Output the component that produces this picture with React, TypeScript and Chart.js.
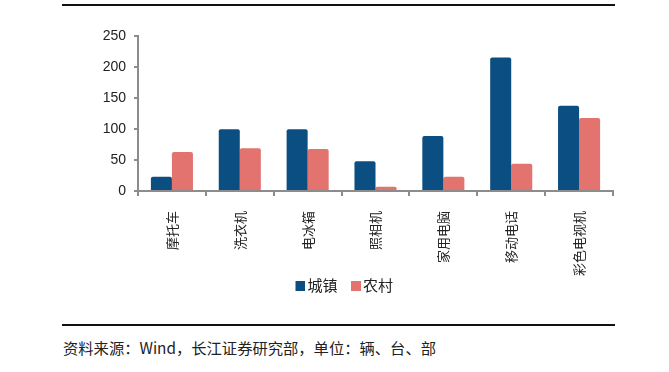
import React, { useEffect, useRef } from "react";
import { Chart, registerables } from "chart.js";

Chart.register(...registerables);

const categories = ["摩托车", "洗衣机", "电冰箱", "照相机", "家用电脑", "移动电话", "彩色电视机"];
const urbanValues = [23, 100, 100, 48, 89, 216, 138];
const ruralValues = [63, 69, 68, 7, 23, 44, 118];
const seriesNames = ["城镇", "农村"];
const yTicks = [0, 50, 100, 150, 200, 250];
const footerText = "资料来源：Wind，长江证券研究部，单位：辆、台、部";

const BLUE = "#0b4f82";
const RED = "#e2736f";

const legendShift = {
  id: "legendShift",
  afterLayout(chart: any) {
    if (chart.legend) {
      chart.legend.left += 4;
      chart.legend.right += 4;
      chart.legend.top -= 8;
      chart.legend.bottom -= 8;
    }
  },
};

function makeSwatch(color: string) {
  const c = document.createElement("canvas");
  c.width = 21;
  c.height = 10;
  const g = c.getContext("2d")!;
  g.fillStyle = color;
  g.fillRect(11, 0, 10, 10);
  return c;
}

export default function App() {
  const ref = useRef<HTMLCanvasElement | null>(null);
  useEffect(() => {
    if (!ref.current) return;
    const swatches = [makeSwatch(BLUE), makeSwatch(RED)];
    const chart = new Chart(ref.current, {
      type: "bar",
      data: {
        labels: categories,
        datasets: [
          { label: seriesNames[0], data: urbanValues, backgroundColor: BLUE, borderRadius: 2, borderSkipped: "bottom" },
          { label: seriesNames[1], data: ruralValues, backgroundColor: RED, borderRadius: 2, borderSkipped: "bottom" },
        ],
      },
      plugins: [legendShift],
      options: {
        animation: false,
        responsive: false,
        devicePixelRatio: 1,
        layout: { padding: { top: 0, right: 2, left: 0, bottom: 0 } },
        datasets: { bar: { categoryPercentage: 0.62, barPercentage: 1.0 } },
        plugins: {
          tooltip: { enabled: false },
          legend: {
            position: "bottom",
            labels: {
              usePointStyle: true,
              boxWidth: 10,
              boxHeight: 10,
              padding: 8,
              color: "#222",
              font: { size: 15, family: "'Noto Sans CJK SC', sans-serif" },
              generateLabels: (ch: any) => {
                const items = Chart.defaults.plugins.legend.labels.generateLabels(ch);
                return items.map((it: any, i: number) => ({ ...it, pointStyle: swatches[i] }));
              },
            },
          },
        },
        scales: {
          x: {
            offset: true,
            grid: { display: true, offset: true, drawOnChartArea: false, drawTicks: true, tickLength: 5, color: "#8c8c8c", lineWidth: 2 },
            border: { display: true, color: "#8c8c8c", width: 2 },
            ticks: {
              minRotation: 90,
              maxRotation: 90,
              padding: 15,
              color: "#222",
              font: { size: 13, family: "'Noto Sans CJK SC', sans-serif" },
            },
            afterFit: (s: any) => { s.height = 87; },
          },
          y: {
            min: 0,
            max: 250,
            afterBuildTicks: (s: any) => { s.ticks = yTicks.map((v) => ({ value: v })); },
            grid: { display: true, drawOnChartArea: false, drawTicks: true, tickLength: 4, color: "#8c8c8c", lineWidth: 2 },
            border: { display: true, color: "#8c8c8c", width: 2 },
            ticks: {
              padding: 8,
              color: "#222",
              font: { size: 14, family: "'Liberation Sans', Arial, sans-serif" },
            },
            afterFit: (s: any) => { s.width = 76; },
          },
        },
      },
    });
    return () => chart.destroy();
  }, []);

  return (
    <div style={{ position: "absolute", left: 0, top: 0, width: 669, height: 372, background: "#fff" }}>
      <div style={{ position: "absolute", left: 62, top: 4, width: 553, height: 2, background: "#111" }} />
      <canvas ref={ref} width={553} height={291} style={{ position: "absolute", left: 62, top: 20, width: 553, height: 291 }} />
      <div style={{ position: "absolute", left: 62, top: 324, width: 553, height: 1.5, background: "#111" }} />
      <div
        style={{
          position: "absolute",
          left: 63,
          top: 337,
          fontSize: 15.3,
          lineHeight: "20px",
          color: "#222",
          fontFamily: "'Noto Sans CJK SC', sans-serif",
          whiteSpace: "nowrap",
        }}
      >
        {footerText}
      </div>
    </div>
  );
}
